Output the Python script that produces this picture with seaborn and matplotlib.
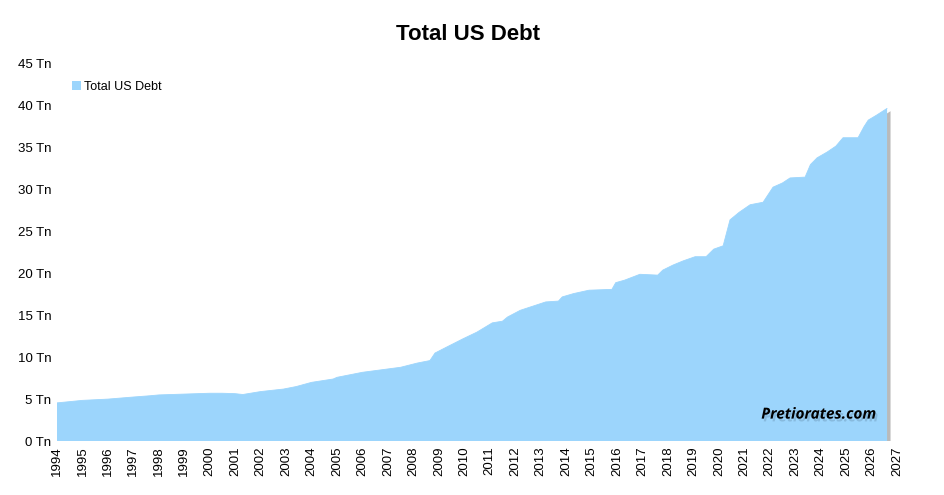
import numpy as np
import pandas as pd
import matplotlib
matplotlib.use("Agg")
import matplotlib.pyplot as plt
import matplotlib.patheffects as pe
import seaborn as sns

# debt in trillions (decimal year, value)
years = [1994.0, 1995.0, 1996.0, 1997.0, 1997.65, 1998.0, 1999.0, 2000.0,
         2000.5, 2001.0, 2001.3, 2001.6, 2002.0, 2002.9, 2003.4, 2004.0,
         2004.85, 2005.0, 2006.0, 2007.0, 2007.5, 2008.15, 2008.65, 2008.85,
         2009.3, 2009.95, 2010.5, 2011.1, 2011.5, 2011.7, 2012.2, 2012.7,
         2013.2, 2013.7, 2013.85, 2014.3, 2014.9, 2015.8, 2015.95, 2016.3,
         2016.9, 2017.6, 2017.8, 2018.2, 2018.6, 2019.07, 2019.5, 2019.8,
         2020.17, 2020.44, 2020.8, 2021.23, 2021.74, 2022.13, 2022.5, 2022.8,
         2023.39, 2023.6, 2023.86, 2024.26, 2024.6, 2024.88, 2025.47, 2025.7,
         2025.87, 2026.2, 2026.61]
debt = [4.55, 4.85, 5.0, 5.25, 5.4, 5.5, 5.6, 5.7,
        5.7, 5.65, 5.55, 5.7, 5.9, 6.2, 6.5, 7.0,
        7.4, 7.6, 8.2, 8.6, 8.8, 9.3, 9.6, 10.5,
        11.2, 12.2, 13.0, 14.1, 14.3, 14.8, 15.6, 16.1,
        16.6, 16.7, 17.2, 17.6, 18.0, 18.1, 18.9, 19.2,
        19.9, 19.8, 20.4, 21.0, 21.5, 22.0, 22.0, 22.9,
        23.3, 26.4, 27.3, 28.2, 28.5, 30.3, 30.8, 31.4,
        31.5, 33.0, 33.8, 34.5, 35.2, 36.2, 36.2, 37.5,
        38.3, 38.9, 39.7]
year_ticks = list(range(1994, 2028))
y_ticks = list(range(0, 50, 5))

df = pd.DataFrame({"year": years, "debt": debt})
fill_color = "#9cd5fc"

sns.set_style("white")
plt.rcParams["font.family"] = ["Liberation Sans", "DejaVu Sans"]
plt.rcParams["text.color"] = "black"
plt.rcParams["xtick.color"] = "black"
plt.rcParams["ytick.color"] = "black"

fig = plt.figure(figsize=(9.45, 4.95), dpi=100)
ax = fig.add_axes([57 / 945, 1 - 441 / 495, 840 / 945, 377 / 495])

area = ax.fill_between(df.year, 0, df.debt, color=fill_color, lw=0,
                       label="Total US Debt")
area.set_path_effects([pe.SimplePatchShadow(offset=(2.5, -2),
                                            shadow_rgbFace="#666666",
                                            alpha=0.45),
                       pe.Normal()])
sns.lineplot(data=df, x="year", y="debt", ax=ax, color=fill_color, lw=0.6)

ax.set_xlim(1994, 2027)
ax.set_ylim(0, 45)
ax.set_xticks(year_ticks)
ax.set_xticklabels([str(y) for y in year_ticks], rotation=90, fontsize=9.5)
ax.set_yticks(y_ticks)
ax.set_yticklabels([f"{v} Tn" for v in y_ticks], fontsize=9.5)
ax.tick_params(length=0, pad=4)
ax.set_xlabel("")
ax.set_ylabel("")
for s in ax.spines.values():
    s.set_visible(False)

ax.legend(handles=[area], labels=["Total US Debt"], loc="upper left",
          bbox_to_anchor=(0.005, 0.985), frameon=False, fontsize=9,
          handlelength=0.7, handleheight=0.7, handletextpad=0.2)

fig.text(468 / 945, 1 - 35 / 495, "Total US Debt", ha="center", va="center",
         fontsize=16, fontweight="bold")

ax.text(0.975, 0.07, "Pretiorates.com", transform=ax.transAxes, ha="right",
        va="center", fontsize=11, fontweight="bold", style="italic",
        family=["Open Sans", "DejaVu Sans"],
        path_effects=[pe.withSimplePatchShadow(offset=(1.5, -2),
                                               shadow_rgbFace="#4a6a85",
                                               alpha=0.25)])

fig.savefig("out.png", dpi=100)
